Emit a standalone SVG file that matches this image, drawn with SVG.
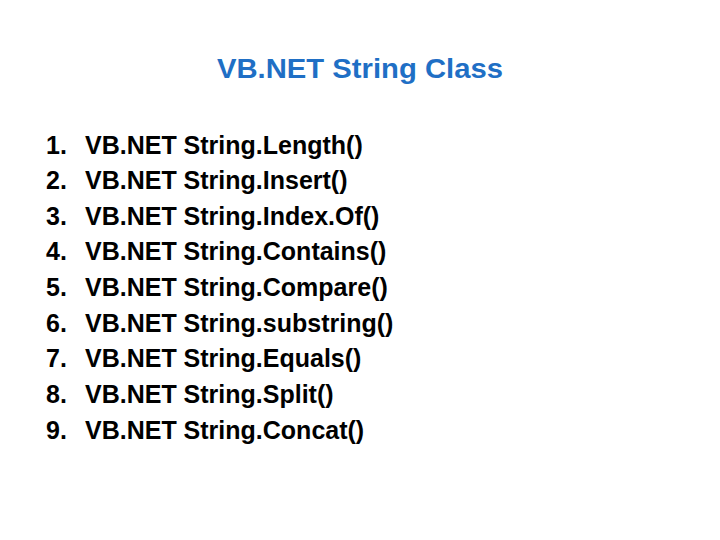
<svg xmlns="http://www.w3.org/2000/svg" width="720" height="540" viewBox="0 0 720 540">
<style>
.t{font-family:"Liberation Sans",Arial,sans-serif;font-weight:bold;fill:#1F6FC5;font-size:27px}
.l{font-family:"Liberation Sans",Arial,sans-serif;font-weight:bold;fill:#000;font-size:25px}
</style>
<rect width="720" height="540" fill="#fff"/>
<text class="t" x="360" y="78" text-anchor="middle" textLength="286" lengthAdjust="spacingAndGlyphs">VB.NET String Class</text>
<g id="list" class="l">
<text x="46" y="154">1.</text><text x="85" y="154">VB.NET String.Length()</text>
<text x="46" y="189">2.</text><text x="85" y="189">VB.NET String.Insert()</text>
<text x="46" y="225">3.</text><text x="85" y="225">VB.NET String.Index.Of()</text>
<text x="46" y="260">4.</text><text x="85" y="260">VB.NET String.Contains()</text>
<text x="46" y="296">5.</text><text x="85" y="296">VB.NET String.Compare()</text>
<text x="46" y="332">6.</text><text x="85" y="332">VB.NET String.substring()</text>
<text x="46" y="367">7.</text><text x="85" y="367">VB.NET String.Equals()</text>
<text x="46" y="403">8.</text><text x="85" y="403">VB.NET String.Split()</text>
<text x="46" y="439">9.</text><text x="85" y="439">VB.NET String.Concat()</text>
</g>
</svg>
